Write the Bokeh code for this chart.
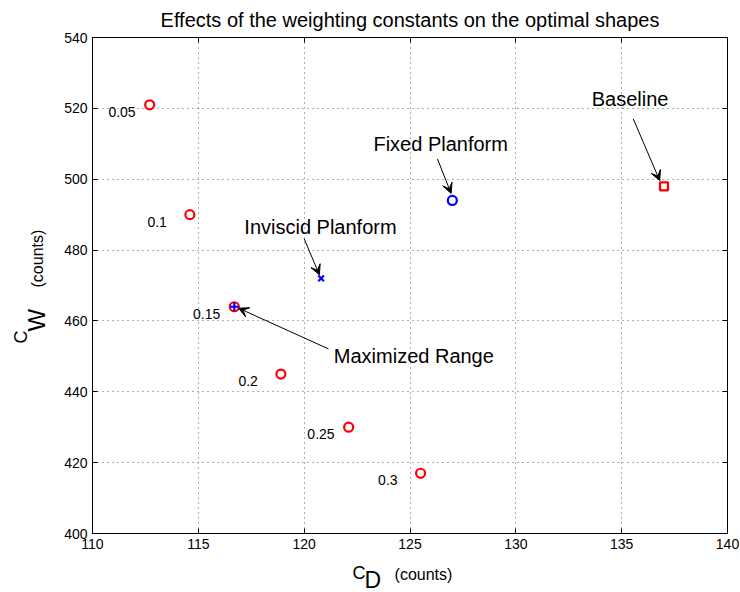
import math
from bokeh.plotting import figure
from bokeh.layouts import row, column
from bokeh.models import Range1d, LinearAxis, FixedTicker, Label, Arrow, VeeHead
from bokeh.core.properties import value
from bokeh.embed import file_html
from bokeh.resources import INLINE

# Optimal shapes for each weighting constant
weights = ["0.05", "0.1", "0.15", "0.2", "0.25", "0.3"]
cd_weighted = [112.7, 114.6, 116.7, 118.9, 122.1, 125.5]
cw_weighted = [521, 490, 464, 445, 430, 417]

# Reference designs
baseline_cd, baseline_cw = [137.0], [498]
fixed_cd, fixed_cw = [127.0], [494]
inviscid_cd, inviscid_cw = [120.8], [472]
maxrange_cd, maxrange_cw = [116.7], [464]

x_ticks = [110, 115, 120, 125, 130, 135, 140]
y_ticks = [400, 420, 440, 460, 480, 500, 520, 540]

FONT = "Liberation Sans"
RED = "#ff0000"
BLUE = "#0000ff"

BORDER_L, BORDER_R, BORDER_T, BORDER_B = 42, 13, 36, 23

# ---- main plot -------------------------------------------------------------
p = figure(
    width=690, height=556,
    x_range=Range1d(110, 140), y_range=Range1d(400, 540),
    output_backend="svg", toolbar_location=None,
    min_border_left=BORDER_L, min_border_right=BORDER_R,
    min_border_top=BORDER_T, min_border_bottom=BORDER_B,
    background_fill_color="white", border_fill_color="white",
)

p.title.text = "Effects of the weighting constants on the optimal shapes"
p.title.align = "center"
p.title.text_font = FONT
p.title.text_font_size = "20px"
p.title.text_font_style = "normal"
p.title.text_color = "black"
p.title.standoff = 13

p.outline_line_color = "black"
p.outline_line_width = 1
p.outline_line_alpha = 1

for ax, ticks in ((p.xaxis[0], x_ticks), (p.yaxis[0], y_ticks)):
    ax.ticker = FixedTicker(ticks=ticks)
    ax.major_tick_in = 5
    ax.major_tick_out = 0
    ax.minor_tick_line_color = None
    ax.axis_line_color = "black"
    ax.major_tick_line_color = "black"
    ax.major_label_text_font = FONT
    ax.major_label_text_font_size = "14px"
    ax.major_label_text_color = "black"
    ax.major_label_standoff = 5

# Tick marks along the top and right edges of the box (no labels there)
top_axis = LinearAxis(ticker=FixedTicker(ticks=x_ticks), major_tick_in=5, major_tick_out=0,
                      minor_tick_line_color=None, axis_line_color=None,
                      major_label_text_font_size="0px", major_label_text_color=None,
                      major_label_standoff=0)
right_axis = LinearAxis(ticker=FixedTicker(ticks=y_ticks), major_tick_in=5, major_tick_out=0,
                        minor_tick_line_color=None, axis_line_color=None,
                        major_label_text_font_size="0px", major_label_text_color=None,
                        major_label_standoff=0)
p.add_layout(top_axis, "above")
p.add_layout(right_axis, "right")

p.xgrid.ticker = FixedTicker(ticks=x_ticks)
p.ygrid.ticker = FixedTicker(ticks=y_ticks)
for g in (p.xgrid[0], p.ygrid[0]):
    g.grid_line_color = "#606060"
    g.grid_line_dash = "1 4"
    g.grid_line_width = 1

# Markers
p.scatter(cd_weighted, cw_weighted, marker="circle", size=9, line_color=RED,
          line_width=2.2, fill_color=None)
p.scatter(baseline_cd, baseline_cw, marker="square", size=8, line_color=RED,
          line_width=2.2, fill_color=None)
p.scatter(fixed_cd, fixed_cw, marker="circle", size=9, line_color=BLUE,
          line_width=2.2, fill_color=None)
p.scatter(inviscid_cd, inviscid_cw, marker="x", size=8, line_color=BLUE,
          line_width=2.2)
p.scatter(maxrange_cd, maxrange_cw, marker="cross", size=9, line_color=BLUE,
          line_width=2.2)

# Weighting constant labels beside each optimum
x_shift = [-14, -23, -14, -23, -14, -23]
for w, xv, yv, dx in zip(weights, cd_weighted, cw_weighted, x_shift):
    p.add_layout(Label(x=xv, y=yv, x_offset=dx, y_offset=-7, text=w,
                       text_align="right", text_baseline="middle",
                       text_font=FONT, text_font_size="14px", text_color="black"))

# Callouts with arrows
callouts = [
    ("Baseline", 135.4, 522.6, "center", (135.55, 517.0), (136.8, 499.6)),
    ("Fixed Planform", 126.45, 509.9, "center", (126.3, 505.7), (126.94, 496.0)),
    ("Inviscid Planform", 120.77, 486.6, "center", (120.0, 483.2), (120.72, 473.0)),
    ("Maximized Range", 121.4, 450.1, "left", (121.15, 452.1), (116.9, 463.6)),
]
for text, tx, ty, align, tail, head in callouts:
    p.add_layout(Label(x=tx, y=ty, text=text, text_align=align, text_baseline="middle",
                       text_font=FONT, text_font_size="20px", text_color="black"))
    p.add_layout(Arrow(x_start=tail[0], y_start=tail[1], x_end=head[0], y_end=head[1],
                       line_color="black", line_width=1,
                       end=VeeHead(size=10, fill_color="black", line_color="black",
                                   line_width=1)))


def strip(width, height, xr, yr, left=0, right=0, top=0, bottom=0):
    """Blank panel used to carry an axis title."""
    f = figure(width=width, height=height, x_range=xr, y_range=yr,
               output_backend="svg", toolbar_location=None,
               x_axis_location=None, y_axis_location=None,
               min_border=0, min_border_left=left, min_border_right=right,
               min_border_top=top, min_border_bottom=bottom,
               background_fill_color="white", border_fill_color="white")
    f.outline_line_color = None
    f.grid.visible = False
    return f


def put(f, x, y, text, size, angle=0.0):
    f.text(x=[x], y=[y], text=[text], angle=angle, text_font=value(FONT),
           text_font_size=size, text_align="left", text_baseline="middle",
           text_color="black")


# ---- x axis title: C_D (counts), shares the plot's x scale -----------------
xt = strip(690, 36, p.x_range, Range1d(0, 36), left=BORDER_L, right=BORDER_R)
put(xt, 122.28, 20, "C", "18px")
put(xt, 122.85, 13, "D", "23px")
put(xt, 124.27, 18, "(counts)", "16px")

# ---- y axis title: C_W (counts), shares the plot's y scale -----------------
yt = strip(50, 592, Range1d(0, 50), p.y_range, top=BORDER_T, bottom=592 - 533)
up = math.pi / 2
put(yt, 20, 453.5, "C", "18px", up)
put(yt, 36, 456.9, "W", "24px", up)
put(yt, 36.5, 469.3, "(counts)", "16px", up)

layout = row(yt, column(p, xt))

open("out.html", "w").write(file_html(layout, INLINE))
